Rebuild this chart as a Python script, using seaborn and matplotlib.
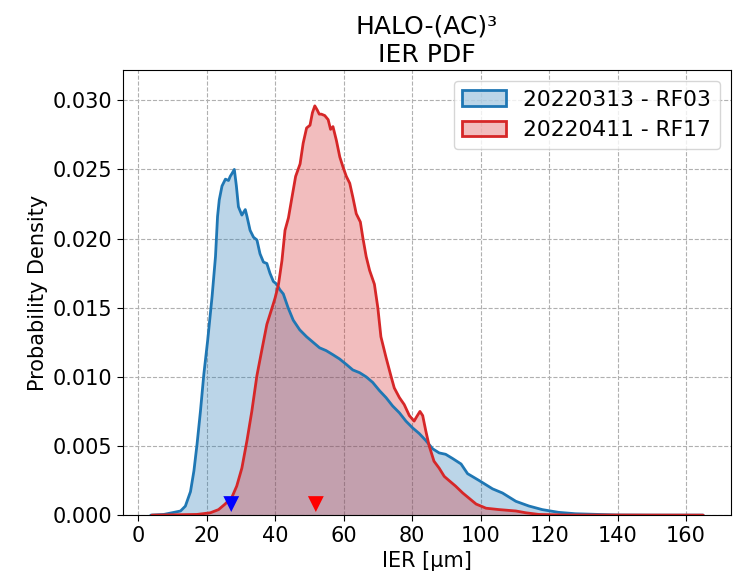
import numpy as np
import pandas as pd
import matplotlib
matplotlib.use('Agg')
import matplotlib.pyplot as plt
from matplotlib.patches import Patch
import seaborn as sns

# IER grid [um] and density values
rf03_ier = [3.7, 7.5, 10.5, 12.4, 13.8, 15.3, 16.3, 17.2, 18.2, 19.2, 20.3, 21.6, 22.6,
            23.2, 23.7, 24.5, 25.5, 26.4, 26.9, 27.4, 28.1, 28.7, 29.3, 30.3, 31.3, 31.8,
            32.7, 33.7, 34.7, 35.6, 36.6, 37.6, 38.5, 39.5, 40.5, 41.4, 42.4, 43.8, 45.3,
            47.2, 49.2, 51.1, 53.0, 54.9, 56.9, 58.8, 60.8, 62.7, 64.7, 66.6, 68.5, 70.5,
            72.4, 74.3, 76.3, 78.2, 80.2, 82.1, 84.0, 86.0, 87.9, 89.8, 91.8, 94.3, 96.2,
            99.6, 103.5, 106.4, 110.3, 114.1, 118.0, 122.8, 127.7, 134.4, 140.0, 150.0, 165.0]
rf03_pdf = [0.0, 0.00005, 0.0002, 0.0003, 0.00065, 0.0017, 0.0032, 0.0051, 0.0075, 0.0102,
            0.0126, 0.0158, 0.0187, 0.0216, 0.0228, 0.0238, 0.0243, 0.0242, 0.0245, 0.0247,
            0.0250, 0.0238, 0.0223, 0.0217, 0.0221, 0.0216, 0.0206, 0.0201, 0.0199, 0.0189,
            0.0183, 0.0182, 0.0175, 0.0169, 0.0167, 0.0163, 0.0160, 0.0150, 0.0141, 0.0134,
            0.0129, 0.0125, 0.0121, 0.0119, 0.0116, 0.0113, 0.0109, 0.0105, 0.0103, 0.0100,
            0.0096, 0.0090, 0.0085, 0.0079, 0.0074, 0.0068, 0.0063, 0.0059, 0.0054, 0.0048,
            0.0045, 0.0044, 0.0041, 0.0037, 0.0030, 0.0025, 0.0019, 0.0016, 0.0010, 0.00066,
            0.0004, 0.0002, 0.0001, 0.00005, 0.00001, 0.0, 0.0]

rf17_ier = [4.0, 17.2, 21.1, 23.5, 25.4, 27.4, 28.8, 30.3, 31.8, 33.2, 34.7, 36.1, 37.6,
            39.0, 40.0, 41.0, 42.0, 42.9, 43.9, 44.8, 46.0, 47.3, 48.2, 49.2, 50.2, 50.9,
            51.6, 52.3, 52.9, 53.5, 54.5, 55.5, 56.2, 56.9, 57.9, 58.9, 59.8, 60.8, 61.8,
            62.7, 63.7, 64.9, 65.6, 66.6, 67.6, 69.0, 70.0, 70.9, 72.4, 73.9, 74.8, 76.3,
            77.7, 79.2, 80.6, 81.3, 82.3, 83.1, 84.0, 85.0, 86.4, 87.9, 89.4, 90.8, 92.7,
            94.8, 98.7, 101.6, 105.4, 110.3, 113.2, 117.0, 125.0, 165.0]
rf17_pdf = [0.0, 0.00005, 0.00017, 0.0004, 0.0008, 0.0013, 0.0021, 0.0034, 0.0054, 0.0075,
            0.0101, 0.0119, 0.0138, 0.0149, 0.0157, 0.0167, 0.0184, 0.0206, 0.0215, 0.0228,
            0.0245, 0.0254, 0.0269, 0.0280, 0.0282, 0.0291, 0.0296, 0.0293, 0.0290, 0.0290,
            0.0289, 0.0286, 0.0279, 0.0281, 0.0271, 0.0259, 0.0252, 0.0245, 0.0240, 0.0230,
            0.0218, 0.0212, 0.0201, 0.0187, 0.0177, 0.0167, 0.0150, 0.0129, 0.0114, 0.0100,
            0.0092, 0.0085, 0.0080, 0.0072, 0.0068, 0.0071, 0.0075, 0.0072, 0.0061, 0.0050,
            0.0039, 0.0034, 0.0028, 0.0025, 0.0021, 0.0016, 0.0008, 0.0005, 0.0004, 0.0003,
            0.00017, 0.00005, 0.00001, 0.0]

flights = ['20220313 - RF03', '20220411 - RF17']
colors = ['tab:blue', 'tab:red']
marker_colors = ['blue', 'red']
mode_ier = [27.2, 51.9]

df = pd.concat([
    pd.DataFrame({'ier': rf03_ier, 'pdf': rf03_pdf, 'flight': flights[0]}),
    pd.DataFrame({'ier': rf17_ier, 'pdf': rf17_pdf, 'flight': flights[1]}),
])

sns.set_style('white')
plt.rcParams.update({'text.color': 'black', 'axes.labelcolor': 'black',
                     'xtick.color': 'black', 'ytick.color': 'black'})
fig, ax = plt.subplots(figsize=(7.33, 5.73), dpi=100)
fig.subplots_adjust(left=0.168, right=0.997, top=0.878, bottom=0.101)

for flight, c in zip(flights, colors):
    sub = df[df['flight'] == flight]
    ax.fill_between(sub['ier'], sub['pdf'], color=c, alpha=0.3, linewidth=0)
    sns.lineplot(data=sub, x='ier', y='pdf', color=c, linewidth=2, ax=ax, sort=False)

sns.scatterplot(x=mode_ier, y=[0.0008, 0.0008], hue=flights, palette=marker_colors,
                marker='v', s=130, linewidth=0, ax=ax, legend=False, zorder=5)

ax.set_ylim(0, 0.0322)
ax.set_xticks(np.arange(0, 161, 20))
ax.grid(True, linestyle='--', color='#b0b0b0', linewidth=0.8)
ax.tick_params(axis='both', labelsize=15, length=4, bottom=True, left=True)
for s in ax.spines.values():
    s.set_color('black')
    s.set_linewidth(0.8)

ax.set_xlabel('IER [µm]', fontsize=15)
ax.set_ylabel('Probability Density', fontsize=15)
ax.set_title('HALO-(AC)³\nIER PDF', fontsize=18)

handles = [Patch(facecolor=matplotlib.colors.to_rgba(c, 0.3), edgecolor=c, linewidth=2)
           for c in colors]
ax.legend(handles, flights, fontsize=15.7, loc='upper right')

fig.savefig('out.png', dpi=100)
